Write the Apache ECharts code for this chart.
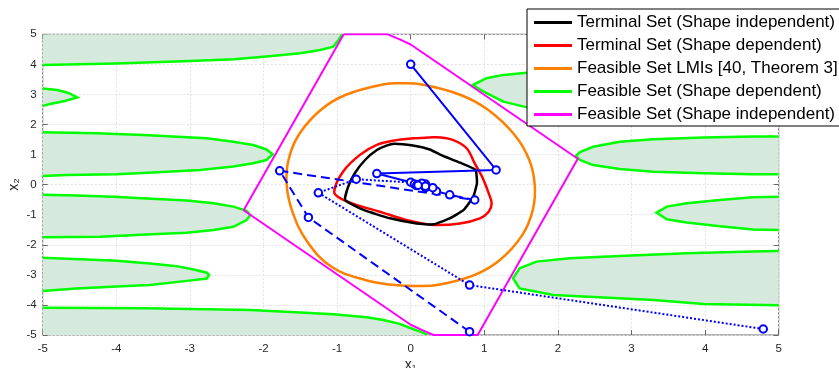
<!DOCTYPE html>
<html>
<head>
<meta charset="utf-8">
<script src="https://cdn.jsdelivr.net/npm/echarts@6/dist/echarts.min.js"></script>
<style>
  html, body { margin: 0; padding: 0; background: #fff; }
  #chart { width: 839px; height: 368px; }
</style>
</head>
<body>
<div id="chart"></div>
<script>
// legend names
const names = [
  'Terminal Set (Shape independent)',
  'Terminal Set (Shape dependent)',
  'Feasible Set LMIs [40, Theorem 3]',
  'Feasible Set (Shape dependent)',
  'Feasible Set (Shape independent)'
];

// black: terminal set, shape independent (closed curve)
const terminalIndep = [
  [-0.89, -0.51], [-0.85, -0.07], [-0.76, 0.38], [-0.62, 0.82], [-0.46, 1.15], [-0.33, 1.30],
  [-0.22, 1.36], [0.03, 1.30], [0.26, 1.17], [0.40, 1.00], [0.67, 0.73], [0.88, 0.49],
  [0.90, 0.05], [0.85, -0.40], [0.72, -0.84], [0.53, -1.12], [0.31, -1.32], [0.08, -1.29],
  [-0.28, -1.12], [-0.64, -0.84]
];

// red: terminal set, shape dependent (closed curve)
const terminalDep = [
  [-1.04, -0.23], [-0.92, 0.43], [-0.69, 0.99], [-0.46, 1.32], [-0.24, 1.46], [0.04, 1.54],
  [0.26, 1.57], [0.40, 1.57], [0.58, 1.48], [0.76, 1.21], [0.87, 0.71], [0.97, 0.26],
  [1.06, -0.29], [1.10, -0.62], [1.06, -0.90], [0.94, -1.12], [0.67, -1.29], [0.31, -1.34],
  [-0.05, -1.18], [-0.42, -0.90], [-0.73, -0.68], [-0.96, -0.45]
];

// orange: feasible set from LMIs (closed curve)
const feasibleLmi = [
  [-1.685, 0.0], [-1.66, 0.83], [-1.52, 1.66], [-1.22, 2.49], [-0.88, 2.99], [-0.38, 3.33],
  [-0.12, 3.37], [0.15, 3.33], [0.67, 2.99], [1.05, 2.49], [1.41, 1.66], [1.61, 0.83],
  [1.685, 0.0], [1.66, -0.83], [1.52, -1.66], [1.22, -2.49], [0.88, -2.99], [0.38, -3.33],
  [0.08, -3.37], [-0.25, -3.33], [-0.62, -3.17], [-1.07, -2.74], [-1.41, -1.88], [-1.61, -0.88]
];

// magenta: feasible set, shape independent
const feasibleIndep = [
  [-0.91, 5], [-0.31, 5], [-0.15, 4.83], [0.0, 4.66], [2.27, 0.86], [0.91, -5], [0.31, -5],
  [0.15, -4.83], [0.0, -4.66], [-2.27, -0.85], [-0.91, 5]
];

// green: feasible set, shape dependent (boundary curves)
const greenL1 = [[-5, 3.98], [-4, 4.03], [-3, 4.11], [-2.4, 4.17], [-1.96, 4.26], [-1.5, 4.37],
  [-1.23, 4.48], [-1.05, 4.59], [-0.98, 4.81], [-0.93, 5]];
const greenL2 = [[-5, 3.2], [-4.8, 3.15], [-4.65, 3.05], [-4.53, 2.9], [-4.7, 2.78], [-4.9, 2.68], [-5, 2.62]];
const greenL3 = [[-5, 1.74], [-4.27, 1.71], [-3.63, 1.65], [-3.23, 1.6], [-2.77, 1.54], [-2.41, 1.43],
  [-2.14, 1.32], [-1.96, 1.17], [-1.875, 1.01], [-1.96, 0.82], [-2.14, 0.71], [-2.41, 0.6],
  [-2.86, 0.49], [-3.5, 0.4], [-4, 0.35], [-4.67, 0.32], [-5, 0.29]];
const greenL4 = [[-5, -0.34], [-4.54, -0.36], [-4.04, -0.4], [-3.59, -0.46], [-3.04, -0.53], [-2.68, -0.62],
  [-2.41, -0.73], [-2.23, -0.87], [-2.18, -1.01], [-2.23, -1.18], [-2.41, -1.4], [-2.68, -1.51],
  [-3.04, -1.6], [-3.59, -1.66], [-4.22, -1.73], [-5, -1.75]];
const greenL5 = [[-5, -2.43], [-4.49, -2.48], [-4, -2.53], [-3.54, -2.62], [-3.18, -2.71], [-2.95, -2.82],
  [-2.77, -2.93], [-2.74, -3.0], [-2.77, -3.12], [-3.04, -3.2], [-3.54, -3.34], [-4, -3.39],
  [-4.54, -3.45], [-5, -3.54]];
const greenL6 = [[-5, -4.09], [-3.6, -4.11], [-2.18, -4.17], [-1.5, -4.25], [-1.05, -4.31], [-0.6, -4.41],
  [-0.37, -4.5], [-0.15, -4.63], [0.04, -4.81], [0.13, -4.89], [0.2, -4.96], [0.23, -5]];
const greenR1 = [[5, 4.0], [3, 3.9], [1.58, 3.72], [1.26, 3.65], [1.03, 3.54], [0.84, 3.31],
  [1.03, 3.04], [1.26, 2.76], [1.58, 2.57], [3, 2.4], [5, 2.3]];
const greenR2 = [[5, 1.6], [4.65, 1.6], [3.98, 1.57], [3.3, 1.51], [2.84, 1.43], [2.48, 1.26], [2.3, 1.08],
  [2.246, 0.96], [2.3, 0.82], [2.48, 0.65], [2.84, 0.52], [3.3, 0.43], [3.98, 0.38], [4.65, 0.35], [5, 0.35]];
const greenR3 = [[5, -0.4], [4.65, -0.42], [4.2, -0.51], [3.75, -0.62], [3.48, -0.73], [3.34, -0.93],
  [3.48, -1.15], [3.75, -1.26], [4.2, -1.38], [4.65, -1.49], [5, -1.51]];
const greenR4 = [[5, -2.21], [4.65, -2.22], [3.75, -2.28], [2.84, -2.37], [2.16, -2.45], [1.71, -2.56],
  [1.48, -2.78], [1.39, -3.11], [1.48, -3.45], [1.94, -3.67], [2.62, -3.75], [3.3, -3.84],
  [3.98, -3.97], [5, -4.01]];
// extra corners that close each filled area along the frame
const greenCorners = [[[-5, 5]], [], [], [], [], [[-5, -5]], [], [], [], []];
const greenRegions = [greenL1, greenL2, greenL3, greenL4, greenL5, greenL6, greenR1, greenR2, greenR3, greenR4];

// blue closed-loop trajectories
const trajSolid = [[0, 4], [1.16, 0.49], [-0.46, 0.37], [0.0, 0.08], [0.2, 0.02], [0.1, 0.0], [0.05, 0.02]];
const trajDashed = [[0.8, -4.89], [-1.39, -1.09], [-1.78, 0.46], [0.87, -0.51], [0.53, -0.34],
  [0.35, -0.22], [0.2, -0.1], [0.08, -0.03]];
const trajDotted = [[4.79, -4.8], [0.8, -3.34], [-1.255, -0.27], [-0.74, 0.18], [0.15, 0.05],
  [0.3, -0.1], [0.2, -0.05], [0.1, -0.02]];

const font = 'Liberation Sans, Arial, Helvetica, sans-serif';
const chart = echarts.init(document.getElementById('chart'));

// closed smooth curve through the read points
const loop = (name, pts, color, width, smooth) => ({
  name, type: 'custom', coordinateSystem: 'cartesian2d',
  data: [[pts[0][0], pts[0][1]]], itemStyle: { color }, z: 3, clip: true,
  renderItem: (params, api) => ({
    type: 'polygon',
    shape: { points: pts.map(p => api.coord(p)), smooth },
    style: { fill: null, stroke: color, lineWidth: width }
  })
});

const traj = (data, type) => ({
  type: 'line', data, symbol: 'emptyCircle', symbolSize: 7.5,
  lineStyle: { color: '#0000ff', width: 2, type },
  itemStyle: { color: '#0000ff', borderWidth: 2 }, z: 6, animation: false
});

const tick = { inside: true, length: 5, lineStyle: { color: '#666' } };
const grid = { show: true, lineStyle: { color: '#e0e0e0', type: [2, 2], width: 1 } };
const axisBase = {
  type: 'value', min: -5, max: 5, interval: 1,
  axisLine: { show: false, onZero: false },
  axisTick: tick,
  splitLine: { show: false }
};

chart.setOption({
  animation: false,
  textStyle: { fontFamily: font },
  grid: {
    left: 42.7, right: 60.3, top: 34.3, bottom: 33, show: true,
    borderColor: '#666', borderWidth: 1, outerBoundsMode: 'none', containLabel: false
  },
  xAxis: [
    Object.assign({}, axisBase, {
      position: 'bottom',
      name: 'x₁', nameLocation: 'middle', nameGap: 23, nameMoveOverlap: false,
      nameTextStyle: { fontSize: 14, color: '#262626', fontFamily: font },
      axisLabel: { fontSize: 11.5, color: '#262626', margin: 8, fontFamily: font },
      splitLine: grid
    }),
    Object.assign({}, axisBase, { position: 'top', axisLabel: { show: false } })
  ],
  yAxis: [
    Object.assign({}, axisBase, {
      position: 'left',
      name: 'x₂', nameLocation: 'middle', nameGap: 22, nameMoveOverlap: false,
      nameTextStyle: { fontSize: 14, color: '#262626', fontFamily: font },
      axisLabel: { fontSize: 11.5, color: '#262626', margin: 6, fontFamily: font },
      splitLine: grid
    }),
    Object.assign({}, axisBase, { position: 'right', axisLabel: { show: false } })
  ],
  legend: {
    data: names,
    orient: 'vertical', left: 527, top: 9,
    backgroundColor: '#fff', borderColor: '#000', borderWidth: 1,
    padding: [5, 4, 3, 7],
    icon: 'rect', itemWidth: 38, itemHeight: 3, itemGap: 6,
    textStyle: { fontSize: 17, lineHeight: 17, color: '#000', fontFamily: font },
    selectedMode: false
  },
  series: [
    {
      name: names[3], type: 'custom', coordinateSystem: 'cartesian2d',
      data: greenRegions.map((r, i) => [r[0][0], r[0][1], i]),
      itemStyle: { color: '#00ff00' }, z: 2, clip: true,
      renderItem: (params, api) => {
        const i = api.value(2);
        const edge = greenRegions[i].map(p => api.coord(p));
        const fill = edge.concat(greenCorners[i].map(p => api.coord(p)));
        return {
          type: 'group',
          children: [
            { type: 'polygon', shape: { points: fill }, style: { fill: '#d5eadc', stroke: null } },
            { type: 'polyline', shape: { points: edge }, style: { fill: null, stroke: '#00ff00', lineWidth: 2.5 } }
          ]
        };
      }
    },
    {
      name: names[4], type: 'line', data: feasibleIndep, symbol: 'none',
      lineStyle: { color: '#ff00ff', width: 2 }, itemStyle: { color: '#ff00ff' }, z: 3
    },
    loop(names[2], feasibleLmi, '#ff8000', 2.5, 0.4),
    loop(names[1], terminalDep, '#ff0000', 2.5, 0.35),
    loop(names[0], terminalIndep, '#000000', 2.5, 0.15),
    traj(trajSolid, 'solid'),
    traj(trajDashed, [9, 5]),
    traj(trajDotted, [2, 2])
  ]
});
</script>
</body>
</html>
